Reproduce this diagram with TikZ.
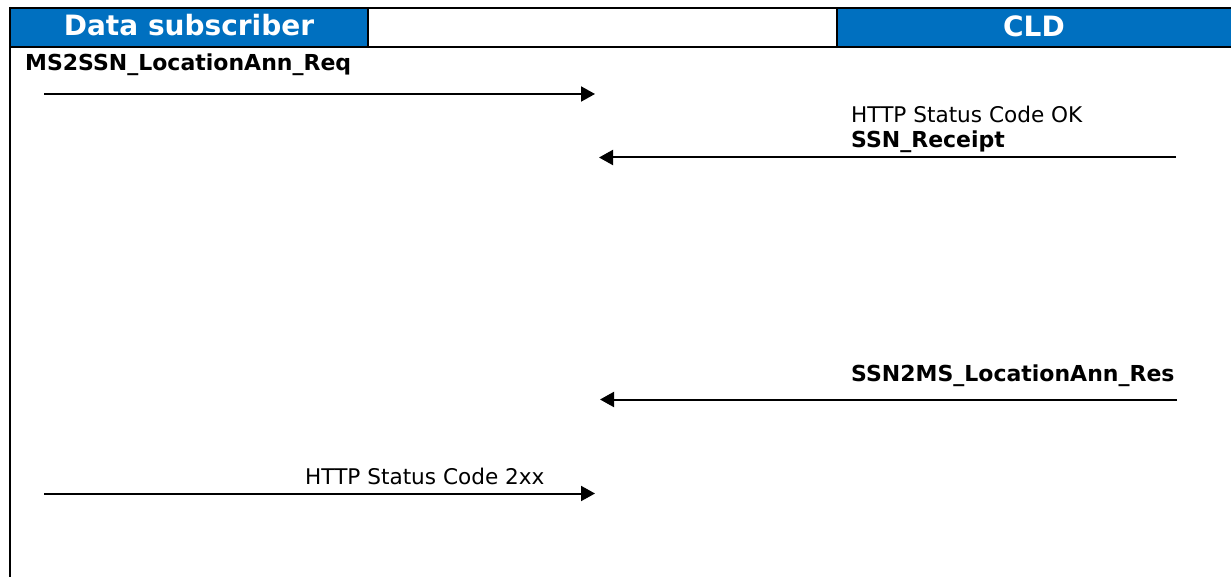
\documentclass[tikz,border=0pt]{standalone}
\usepackage{fontspec}
\setmainfont{DejaVu Sans}
\usetikzlibrary{arrows.meta}
\definecolor{hdrblue}{RGB}{0,112,192}
\tikzset{
  hdrtext/.style={font=\fontsize{28}{33}\selectfont\bfseries, text=white, inner sep=0pt, anchor=base},
  msgtext/.style={font=\fontsize{21.6}{25}\selectfont, inner sep=0pt, anchor=base west},
  msgbold/.style={msgtext, font=\fontsize{22}{25}\selectfont\bfseries},
  msgarrow/.style={line width=2pt, -{Triangle[length=14pt,width=15pt]}},
  rule/.style={line width=2pt, black}
}
\begin{document}
\begin{tikzpicture}[x=1pt,y=-1pt]
\useasboundingbox (0,0) rectangle (1231,577);
% header
\fill[hdrblue] (10,8) rectangle (368,47.5);
\fill[hdrblue] (837,8) rectangle (1231,47.5);
\draw[rule] (10,8) -- (1231,8);
\draw[rule] (10,47.5) -- (1231,47.5);
\draw[rule] (368,8) -- (368,47.5);
\draw[rule] (837,8) -- (837,47.5);
\draw[rule] (10,7) -- (10,577);
\node[hdrtext] (hsub) at (189,36) {Data subscriber};
\node[hdrtext] (hcld) at (1034,36.5) {CLD};
% messages
\node[msgbold] (m1) at (25,71) {MS2SSN\_LocationAnn\_Req};
\coordinate (a1s) at (44,94);
\coordinate (a1e) at (595,94);
\draw[msgarrow] (a1s) -- (a1e);

\node[msgtext] (m2a) at (851,122.7) {HTTP Status Code OK};
\node[msgbold] (m2b) at (851,147.7) {SSN\_Receipt};
\coordinate (a2s) at (1176,157.5);
\coordinate (a2e) at (599,157.5);
\draw[msgarrow] (a2s) -- (a2e);

\node[msgbold] (m3) at (851,381.5) {SSN2MS\_LocationAnn\_Res};
\coordinate (a3s) at (1177,399.5);
\coordinate (a3e) at (600,399.5);
\draw[msgarrow] (a3s) -- (a3e);

\node[msgtext] (m4) at (305,484.3) {HTTP Status Code 2xx};
\coordinate (a4s) at (44,493.5);
\coordinate (a4e) at (595,493.5);
\draw[msgarrow] (a4s) -- (a4e);
\end{tikzpicture}
\end{document}
